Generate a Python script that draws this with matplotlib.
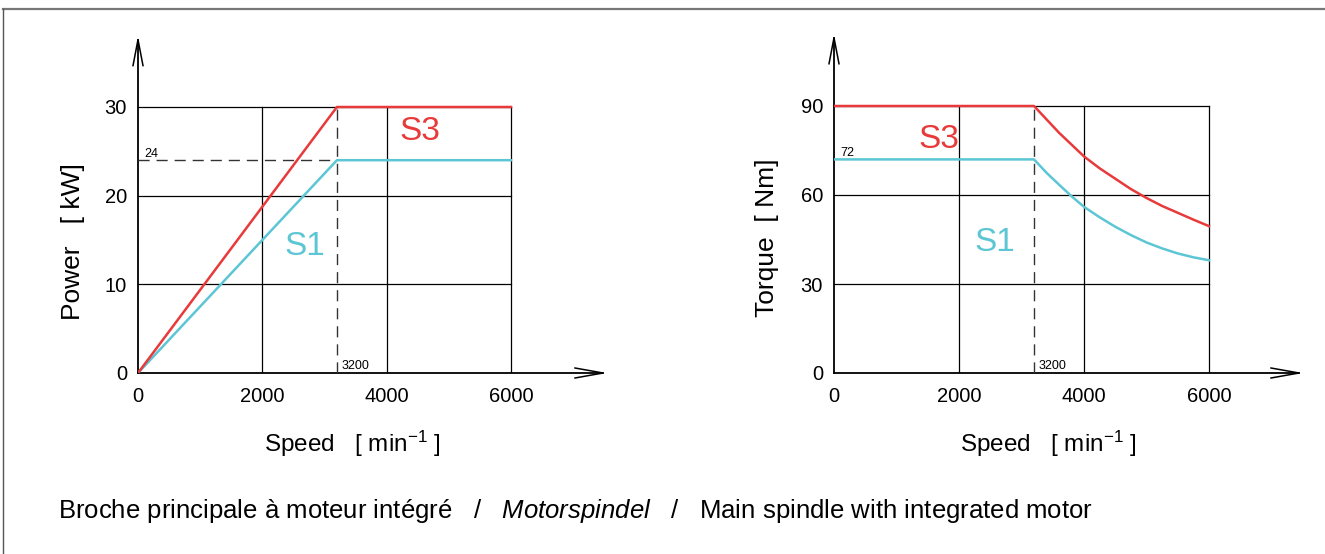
# Motorspindel: Leistung / Drehmoment
import matplotlib
matplotlib.use('Agg')
import matplotlib.pyplot as plt
from matplotlib.lines import Line2D

plt.rcParams['font.family'] = ['Liberation Sans', 'DejaVu Sans']
plt.rcParams['mathtext.fontset'] = 'custom'
plt.rcParams['mathtext.rm'] = 'Liberation Sans'
plt.rcParams['mathtext.it'] = 'Liberation Sans:italic'
plt.rcParams['mathtext.sf'] = 'Liberation Sans'

RED = '#e83a3a'
CYAN = '#5cc6d4'

# Daten
speed_ticks = [0, 2000, 4000, 6000]
power_ticks = [0, 10, 20, 30]
torque_ticks = [0, 30, 60, 90]
corner_speed = 3200

power_speed = [0, 3200, 6000]
power_s3 = [0, 30, 30]
power_s1 = [0, 24, 24]

torque_speed = [0, 3200, 3400, 3600, 3800, 4000, 4250, 4500, 4750, 5000, 5250, 5500, 5750, 6000]
torque_s3 = [90, 90, 85.5, 81, 77, 73, 69, 65.5, 62, 59, 56.3, 54, 51.7, 49.5]
torque_s1 = [72, 72, 67.5, 63.5, 59.6, 56, 52.5, 49.3, 46.5, 44, 42, 40.3, 39, 38]

W, H = 1325, 554
fig = plt.figure(figsize=(W / 100, H / 100), dpi=100)

# Rahmen
fig.add_artist(Line2D([3 / W, 1], [1 - 9 / H, 1 - 9 / H], color='#777777', lw=1.6))
fig.add_artist(Line2D([3 / W, 3 / W], [0, 1 - 9 / H], color='#555555', lw=1.0))


def chart(x0, x6000, y_top_px, ytop_val, arrow_y, arrow_x, yticks, ylabel, ylabel_x, ylabel_y):
    # pixel -> axes
    px_x = (x6000 - x0) / 6000.0
    px_y = (373 - y_top_px) / ytop_val
    xmax = arrow_x + 10 / px_x
    ymax = arrow_y + 4 / px_y
    w_px, h_px = xmax * px_x, ymax * px_y
    ax = fig.add_axes([x0 / W, (H - 373) / H, w_px / W, h_px / H])
    ax.set_xlim(0, xmax)
    ax.set_ylim(0, ymax)
    for s in ax.spines.values():
        s.set_visible(False)
    ax.patch.set_alpha(0)
    # Gitter
    for x in speed_ticks[1:]:
        ax.plot([x, x], [0, yticks[-1]], color='black', lw=0.9)
    for y in yticks[1:]:
        ax.plot([0, 6000], [y, y], color='black', lw=0.9)
    # Achsen mit Pfeilen
    ax.plot([0, 0], [0, arrow_y], color='black', lw=1.3, clip_on=False)
    ax.plot([0, arrow_x], [0, 0], color='black', lw=1.3, clip_on=False)
    ax.plot([-5 / px_x, 0, 5 / px_x], [arrow_y - 26 / px_y, arrow_y, arrow_y - 26 / px_y],
            color='black', lw=1.1, clip_on=False)
    ax.plot([arrow_x - 28 / px_x, arrow_x, arrow_x - 28 / px_x], [5 / px_y, 0, -5 / px_y],
            color='black', lw=1.1, clip_on=False)
    ax.set_xticks(speed_ticks)
    ax.set_yticks(yticks)
    ax.tick_params(length=0, labelsize=14.5)
    ax.tick_params(axis='x', pad=10)
    ax.tick_params(axis='y', pad=8)
    ax.set_xlabel(r'Speed   [ min$^{\mathsf{-1}}$ ]', fontsize=17.5)
    ax.xaxis.set_label_coords(214 / w_px, -56 / h_px)
    ax.set_ylabel(ylabel, fontsize=19)
    ax.yaxis.set_label_coords(-(x0 - ylabel_x) / w_px, (373 - ylabel_y) / h_px)
    return ax


# Leistung
ax1 = chart(138, 511, 107, 30, 37.6, 7480, power_ticks, 'Power   [ kW]', 85, 242)
ax1.plot([0, corner_speed], [24, 24], color='#333333', lw=1.0, dashes=(8, 5))
ax1.plot([corner_speed, corner_speed], [0, 30], color='#333333', lw=1.0, dashes=(8, 5))
ax1.plot(power_speed, power_s1, color=CYAN, lw=1.8)
ax1.plot(power_speed, power_s3, color=RED, lw=1.8)
ax1.text(100, 24.4, '24', fontsize=9)
ax1.text(corner_speed + 80, 0.4, '3200', fontsize=9)
ax1.text(4200, 26.3, 'S3', color=RED, fontsize=24)
ax1.text(2350, 13.3, 'S1', color=CYAN, fontsize=24)

# Drehmoment
ax2 = chart(834, 1209, 106, 90, 113, 7440, torque_ticks, 'Torque  [ Nm]', 779, 238)
ax2.plot([corner_speed, corner_speed], [0, 90], color='#333333', lw=1.0, dashes=(8, 5))
ax2.plot(torque_speed, torque_s1, color=CYAN, lw=1.8)
ax2.plot(torque_speed, torque_s3, color=RED, lw=1.8)
ax2.text(100, 73.3, '72', fontsize=9)
ax2.text(corner_speed + 80, 1.2, '3200', fontsize=9)
ax2.text(1350, 76, 'S3', color=RED, fontsize=24)
ax2.text(2250, 41, 'S1', color=CYAN, fontsize=24)

fig.text(58 / W, 1 - 511 / H,
         r'Broche principale à moteur intégré   /   $\mathit{Motorspindel}$   /   Main spindle with integrated motor',
         fontsize=18.5, va='center', ha='left')

fig.savefig('out.png', dpi=100)
